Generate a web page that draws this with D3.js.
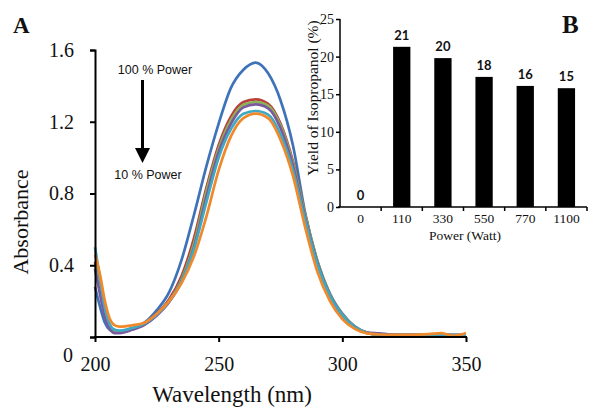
<!DOCTYPE html>
<html><head><meta charset="utf-8">
<script src="https://cdn.jsdelivr.net/npm/d3@7"></script>
<style>
html,body{margin:0;padding:0;background:#fff;}
svg{display:block;}
</style></head>
<body>
<svg id="chart" width="589" height="407"></svg>
<script>
// ---------- Data: panel A (UV-Vis spectra) ----------
const wavelengths = [200,202,204,206,208,210,215,220,225,230,235,240,245,250,255,260,265,270,275,280,285,290,295,300,305,310,315,320,325,330,335,340,345,350];
const seriesBlue   = [0.28,0.17,0.08,0.04,0.03,0.032,0.048,0.08,0.15,0.25,0.43,0.68,0.95,1.19,1.39,1.49,1.53,1.47,1.32,1.07,0.69,0.42,0.24,0.13,0.06,0.025,0.012,0.010,0.010,0.012,0.012,0.015,0.010,0.012];
const seriesRed    = [0.42,0.28,0.13,0.055,0.03,0.03,0.045,0.072,0.13,0.21,0.34,0.55,0.83,1.07,1.23,1.31,1.325,1.30,1.19,0.98,0.68,0.41,0.23,0.12,0.055,0.022,0.012,0.010,0.010,0.012,0.012,0.014,0.010,0.012];
const seriesGreen  = [0.40,0.26,0.12,0.05,0.028,0.028,0.043,0.07,0.125,0.20,0.32,0.52,0.81,1.05,1.21,1.295,1.31,1.29,1.18,0.97,0.68,0.42,0.24,0.125,0.058,0.024,0.016,0.014,0.013,0.012,0.012,0.013,0.010,0.012];
const seriesPurple = [0.38,0.24,0.11,0.045,0.022,0.022,0.04,0.068,0.12,0.195,0.31,0.50,0.78,1.03,1.19,1.28,1.297,1.275,1.165,0.955,0.665,0.41,0.235,0.12,0.056,0.025,0.02,0.014,0.012,0.012,0.012,0.013,0.010,0.012];
const seriesCyan   = [0.50,0.33,0.16,0.07,0.04,0.035,0.05,0.075,0.125,0.20,0.31,0.49,0.75,1.00,1.16,1.245,1.26,1.24,1.13,0.93,0.65,0.40,0.23,0.12,0.055,0.022,0.012,0.010,0.010,0.012,0.012,0.014,0.010,0.012];
const seriesOrange = [0.46,0.35,0.20,0.10,0.065,0.058,0.065,0.08,0.13,0.20,0.30,0.45,0.67,0.93,1.12,1.22,1.245,1.22,1.10,0.90,0.61,0.36,0.20,0.10,0.045,0.02,0.014,0.012,0.012,0.013,0.016,0.022,0.006,0.022];
const seriesList = [seriesBlue, seriesRed, seriesGreen, seriesPurple, seriesCyan, seriesOrange];
const seriesColors = ["#3F73B8","#B8403D","#8DB255","#7A5A9E","#3FA9C4","#F0892B"];
const xTicksA = [200,250,300,350];
const yTicksA = [0,0.4,0.8,1.2,1.6];

// ---------- Data: panel B (inset bar chart) ----------
const powerCategories = ["0","110","330","550","770","1100"];
const yieldValues = [0,21.3,19.8,17.3,16.1,15.8];
const yieldLabels = ["0","21","20","18","16","15"];
const yTicksB = [0,5,10,15,20,25];

const svg = d3.select("#chart");
const serif = "'Liberation Serif','Times New Roman',serif";
const sans = "'Liberation Sans',Arial,sans-serif";

// ---------- Panel A ----------
const x = d3.scaleLinear().domain([200,350]).range([95,466]);
const y = d3.scaleLinear().domain([0,1.6]).range([337,50]);

const line = d3.line()
  .x((d,i)=>x(wavelengths[i]))
  .y(d=>y(d))
  .curve(d3.curveMonotoneX);

const gLines = svg.append("g");
seriesList.forEach((s,k)=>{
  gLines.append("path").attr("d", line(s))
    .attr("fill","none").attr("stroke",seriesColors[k])
    .attr("stroke-width",2.7).attr("stroke-linejoin","round");
});

const xAxisA = svg.append("g").attr("transform","translate(0,337)")
  .call(d3.axisBottom(x).tickValues(xTicksA).tickSize(5).tickPadding(15).tickFormat(d3.format("d")));
xAxisA.select(".domain").attr("stroke","#000").attr("stroke-width",2).attr("d","M94,0H467");
xAxisA.selectAll(".tick line").attr("stroke","#000").attr("stroke-width",2);
xAxisA.selectAll(".tick text").attr("font-family",serif).attr("font-size",20).attr("fill","#111");

const yAxisA = svg.append("g").attr("transform","translate(95,0)")
  .call(d3.axisLeft(y).tickValues(yTicksA).tickSize(5).tickPadding(16).tickFormat(d=>d===0?"0":d3.format(".1f")(d)));
yAxisA.select(".domain").attr("stroke","#000").attr("stroke-width",2);
yAxisA.selectAll(".tick line").attr("stroke","#000").attr("stroke-width",2);
yAxisA.selectAll(".tick text").attr("font-family",serif).attr("font-size",20).attr("fill","#111");
// the "0" label sits lower-left in the reference
yAxisA.selectAll(".tick").filter(d=>d===0).select("text").attr("x",-22).attr("dy","0.32em").attr("y",18);

svg.append("text").attr("x",232).attr("y",402).attr("text-anchor","middle")
  .attr("font-family",serif).attr("font-size",23).attr("fill","#111").text("Wavelength (nm)");
svg.append("text").attr("transform","translate(28,222) rotate(-90)").attr("text-anchor","middle")
  .attr("font-family",serif).attr("font-size",22).attr("fill","#111").text("Absorbance");

svg.append("text").attr("x",13).attr("y",33).attr("font-family",serif).attr("font-weight","bold")
  .attr("font-size",23).attr("fill","#111").text("A");

// Power annotation + arrow
svg.append("text").attr("x",155).attr("y",74).attr("text-anchor","middle")
  .attr("font-family",sans).attr("font-size",12.5).attr("fill","#111").text("100 % Power");
svg.append("text").attr("x",148).attr("y",179).attr("text-anchor","middle")
  .attr("font-family",sans).attr("font-size",12.5).attr("fill","#111").text("10 % Power");
svg.append("line").attr("x1",142.5).attr("x2",142.5).attr("y1",80).attr("y2",152)
  .attr("stroke","#000").attr("stroke-width",3);
svg.append("path").attr("d","M135,148L150,148L142.5,163Z").attr("fill","#000");

// ---------- Panel B (inset) ----------
const xb = d3.scaleBand().domain(powerCategories).range([340,587]).padding(0);
const yb = d3.scaleLinear().domain([0,25]).range([207,19]);
const barW = xb.bandwidth()*0.42;

svg.append("g").selectAll("rect").data(yieldValues).join("rect")
  .attr("x",(d,i)=>xb(powerCategories[i])+xb.bandwidth()/2-barW/2)
  .attr("y",d=>yb(d)).attr("width",barW).attr("height",d=>yb(0)-yb(d))
  .attr("fill","#000");

svg.append("g").selectAll("text").data(yieldValues).join("text")
  .attr("x",(d,i)=>xb(powerCategories[i])+xb.bandwidth()/2)
  .attr("y",d=>yb(d)-7).attr("text-anchor","middle")
  .attr("font-family","Lato,'Open Sans',sans-serif").attr("font-weight","bold").attr("font-size",13).attr("fill","#111")
  .text((d,i)=>yieldLabels[i]);

const yAxisB = svg.append("g").attr("transform","translate(340,0)")
  .call(d3.axisLeft(yb).tickValues(yTicksB).tickSize(4).tickPadding(2));
yAxisB.select(".domain").attr("stroke","#000").attr("stroke-width",1.5).attr("d","M0,19V207");
yAxisB.selectAll(".tick line").attr("stroke","#000").attr("stroke-width",1.5);
yAxisB.selectAll(".tick text").attr("font-family",serif).attr("font-size",14).attr("fill","#111");

const xAxisB = svg.append("g").attr("transform","translate(0,207)")
  .call(d3.axisBottom(xb).tickSize(0).tickPadding(6));
xAxisB.select(".domain").attr("stroke","#000").attr("stroke-width",1.5).attr("d","M338,0H587");
xAxisB.selectAll(".tick text").attr("font-family",serif).attr("font-size",13.5).attr("fill","#111");
// tick marks at the category boundaries
xAxisB.append("g").selectAll("line").data(powerCategories).join("line")
  .attr("x1",d=>xb(d)+xb.bandwidth()).attr("x2",d=>xb(d)+xb.bandwidth())
  .attr("y1",0).attr("y2",4).attr("stroke","#000").attr("stroke-width",1.5);

svg.append("text").attr("x",465).attr("y",240).attr("text-anchor","middle")
  .attr("font-family",serif).attr("font-size",13.5).attr("fill","#111").text("Power (Watt)");
svg.append("text").attr("transform","translate(318,98) rotate(-90)").attr("text-anchor","middle")
  .attr("font-family",serif).attr("font-size",15.5).attr("fill","#111").text("Yield of Isopropanol (%)");
svg.append("text").attr("x",562).attr("y",33).attr("font-family",serif).attr("font-weight","bold")
  .attr("font-size",25).attr("fill","#111").text("B");
</script>
</body></html>
